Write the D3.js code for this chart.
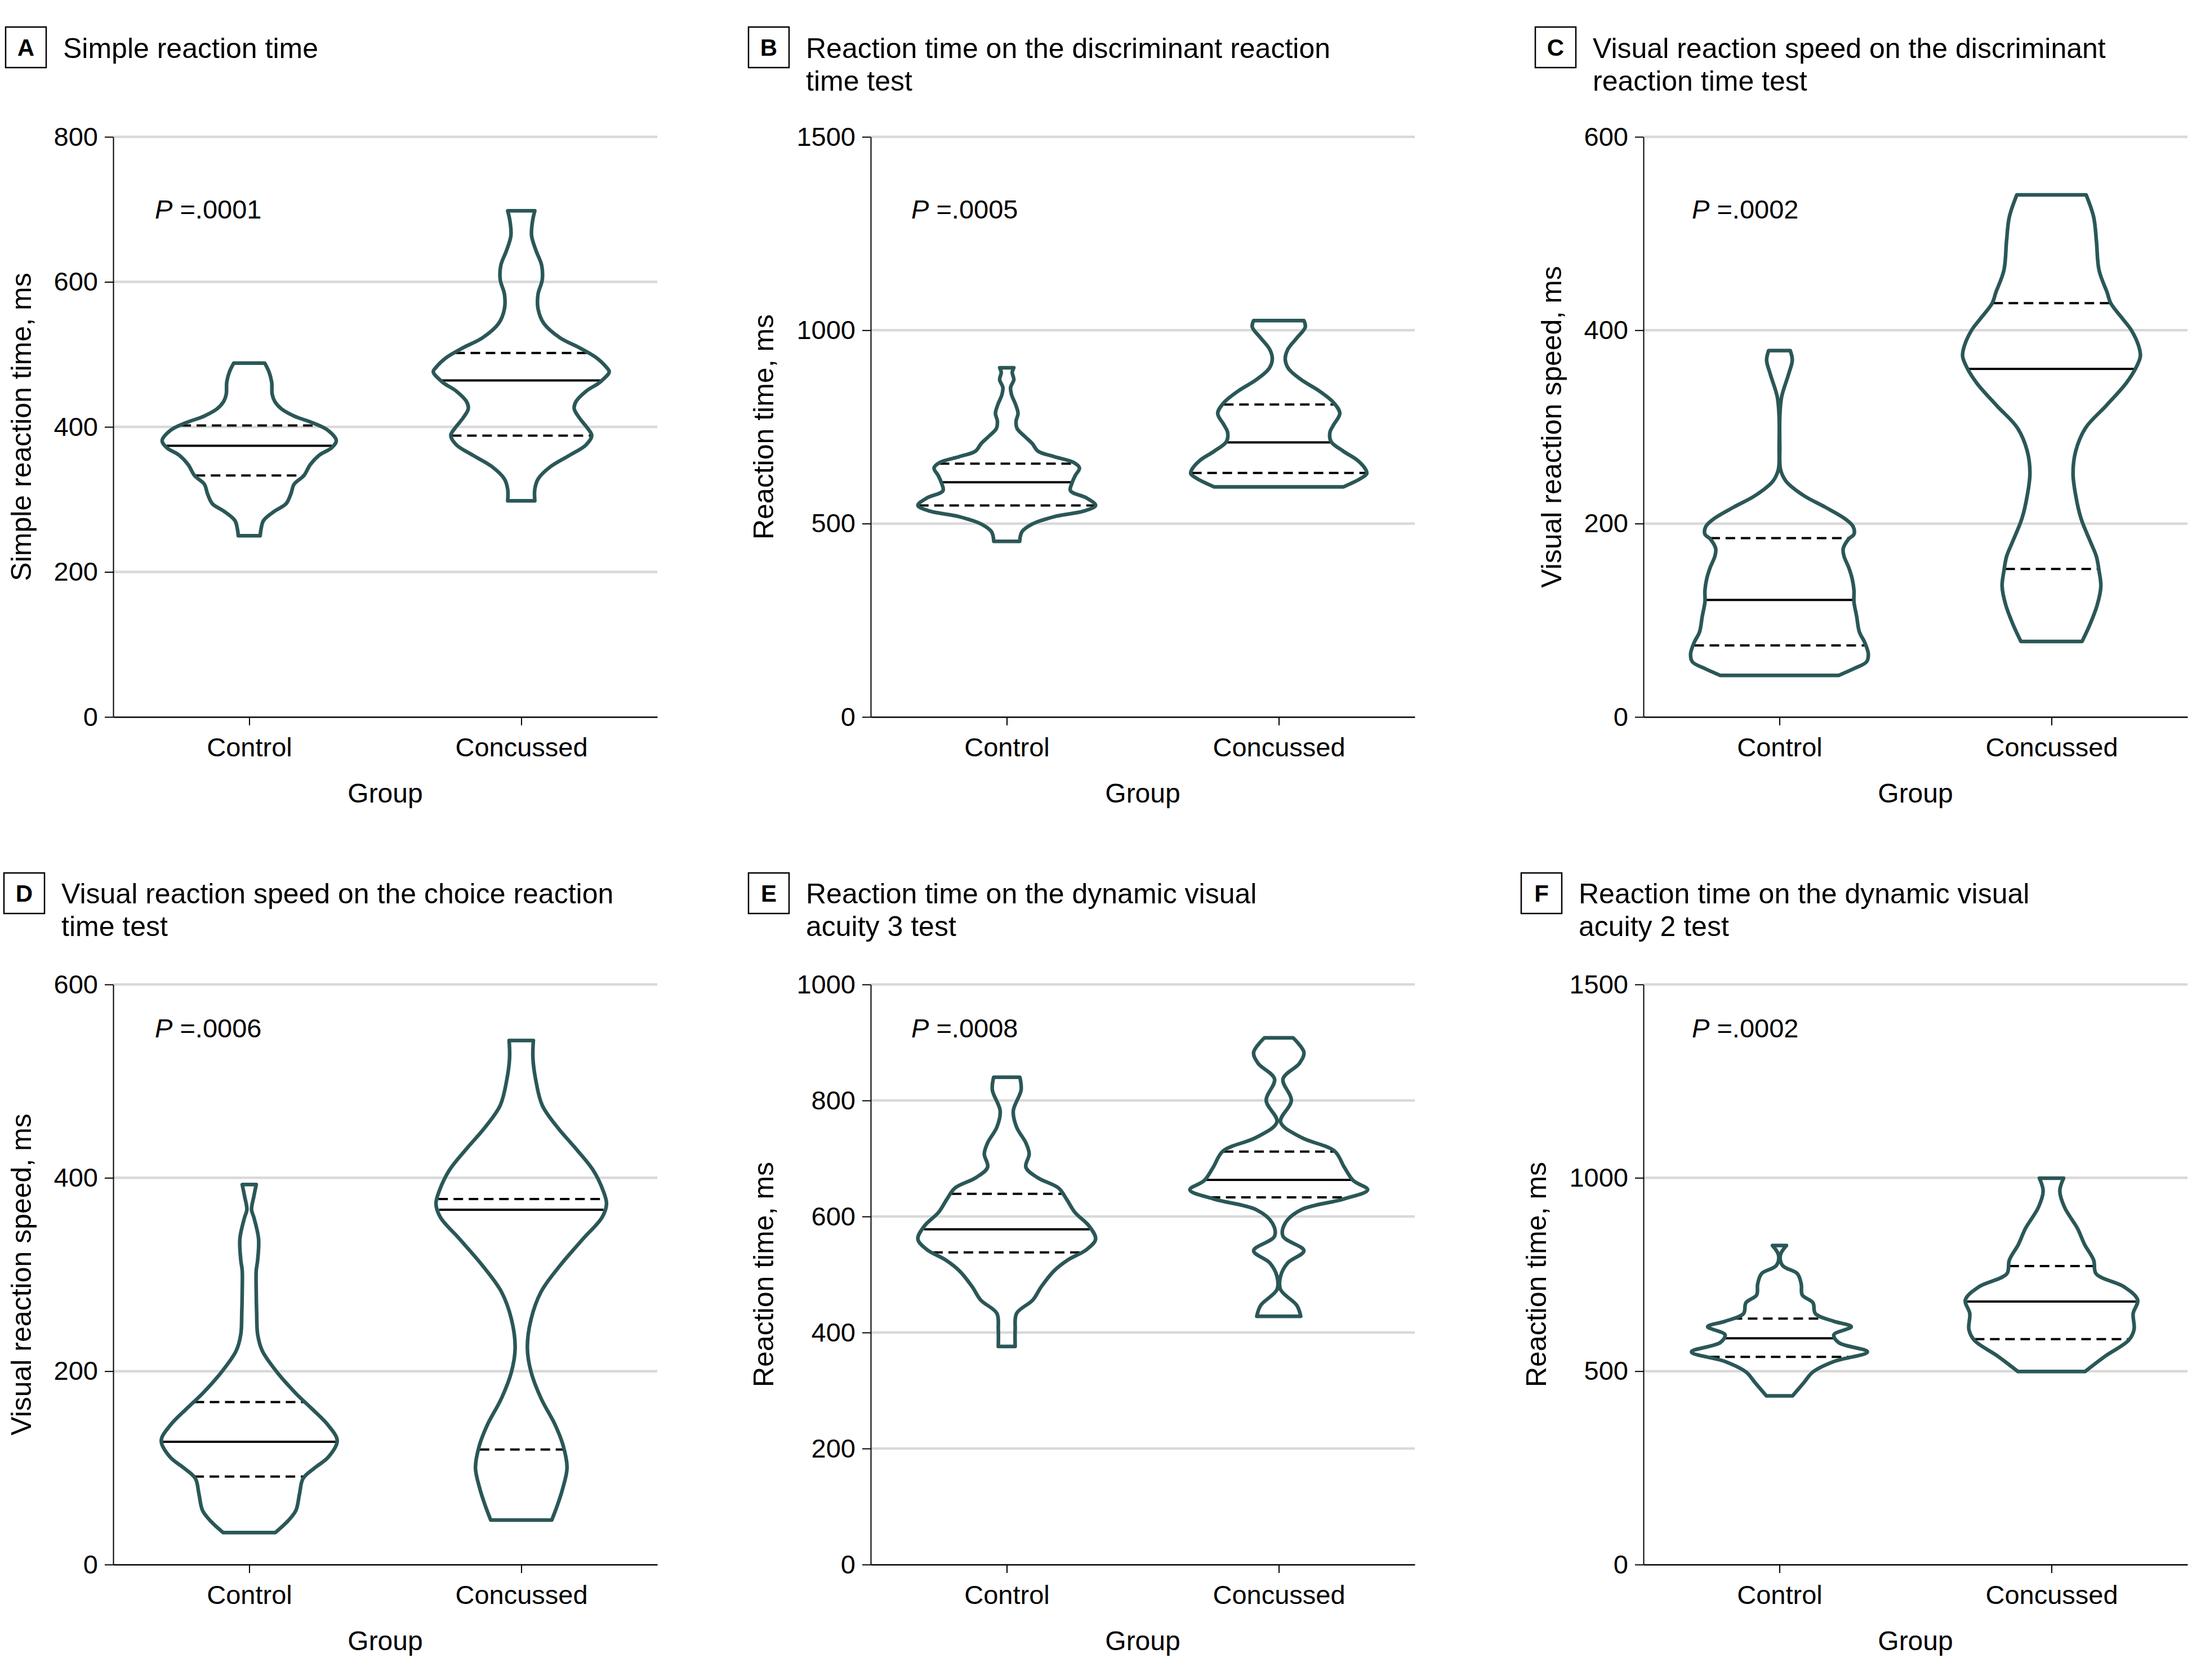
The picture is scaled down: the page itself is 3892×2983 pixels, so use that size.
<!DOCTYPE html>
<html><head><meta charset="utf-8">
<script src="https://cdn.jsdelivr.net/npm/d3@7"></script>
<style>body{margin:0;background:#fff}</style>
</head><body>
<svg id="chart" width="3892" height="2983"></svg>
<script>
// ---------- DATA ----------
const groups = ["Control", "Concussed"];

// Panel A: Simple reaction time
const aTicks = [0, 200, 400, 600, 800];
const aControlValues = [488, 476, 462, 445, 435, 425, 415, 405, 395, 381, 371, 361, 348, 333, 321, 308, 294, 284, 271, 260, 250];
const aControlWidths = [0.173, 0.22, 0.25, 0.256, 0.285, 0.357, 0.50, 0.72, 0.88, 0.97, 0.915, 0.78, 0.68, 0.61, 0.50, 0.465, 0.41, 0.285, 0.16, 0.133, 0.122];
const aControlQuartiles = [333, 374, 402];
const aConcussedValues = [698, 684, 664, 644, 623, 603, 583, 563, 543, 523, 509, 496, 482, 476, 462, 449, 435, 425, 412, 398, 388, 375, 361, 345, 328, 314, 298];
const aConcussedWidths = [0.151, 0.126, 0.115, 0.162, 0.227, 0.234, 0.187, 0.187, 0.25, 0.43, 0.65, 0.83, 0.95, 0.98, 0.88, 0.72, 0.61, 0.59, 0.65, 0.74, 0.785, 0.72, 0.54, 0.324, 0.187, 0.151, 0.151];
const aConcussedQuartiles = [388, 464, 502];

// Panel B: Reaction time, discriminant reaction time test
const bTicks = [0, 500, 1000, 1500];
const bControlValues = [903, 891, 872, 852, 833, 809, 785, 765, 746, 726, 707, 687, 673, 658, 644, 624, 605, 585, 566, 547, 532, 518, 498, 479, 454];
const bControlWidths = [0.079, 0.061, 0.079, 0.043, 0.054, 0.097, 0.126, 0.104, 0.115, 0.198, 0.284, 0.35, 0.53, 0.745, 0.81, 0.763, 0.727, 0.71, 0.89, 0.99, 0.853, 0.53, 0.277, 0.17, 0.144];
const bControlQuartiles = [547, 607, 655];
const bConcussedValues = [1025, 1008, 979, 950, 925, 901, 872, 843, 813, 785, 755, 736, 712, 687, 663, 639, 629, 615, 595];
const bConcussedWidths = [0.28, 0.295, 0.198, 0.10, 0.072, 0.108, 0.25, 0.45, 0.61, 0.68, 0.61, 0.57, 0.583, 0.72, 0.88, 0.97, 0.98, 0.90, 0.72];
const bConcussedQuartiles = [631, 710, 808];

// Panel C: Visual reaction speed, discriminant reaction time test
const cTicks = [0, 200, 400, 600];
const cControlValues = [379, 369, 354, 331, 310, 280, 256, 244, 229, 217, 205, 197, 189, 184, 174, 166, 155, 143, 131, 119, 104, 88, 77, 65, 57, 50, 43];
const cControlWidths = [0.12, 0.143, 0.10, 0.024, 0.004, 0.004, 0.012, 0.072, 0.27, 0.51, 0.73, 0.82, 0.83, 0.77, 0.71, 0.72, 0.77, 0.81, 0.83, 0.83, 0.86, 0.89, 0.95, 0.99, 0.97, 0.83, 0.66];
const cControlQuartiles = [74, 121, 185];
const cConcussedValues = [540, 517, 493, 462, 439, 428, 411, 400, 384, 373, 361, 345, 322, 299, 275, 252, 229, 205, 182, 166, 151, 135, 116, 96, 78];
const cConcussedWidths = [0.386, 0.47, 0.50, 0.53, 0.62, 0.66, 0.80, 0.89, 0.97, 0.99, 0.94, 0.83, 0.61, 0.38, 0.27, 0.24, 0.27, 0.33, 0.43, 0.50, 0.53, 0.55, 0.51, 0.43, 0.34];
const cConcussedQuartiles = [153, 360, 428];

// Panel D: Visual reaction speed, choice reaction time test
const dTicks = [0, 200, 400, 600];
const dControlValues = [393, 381, 367, 359, 337, 315, 304, 282, 260, 238, 221, 199, 177, 161, 144, 128, 111, 100, 89, 73, 56, 45, 33];
const dControlWidths = [0.078, 0.052, 0.026, 0.052, 0.104, 0.094, 0.078, 0.078, 0.083, 0.094, 0.146, 0.31, 0.52, 0.70, 0.88, 0.98, 0.88, 0.73, 0.60, 0.56, 0.52, 0.43, 0.29];
const dControlQuartiles = [91, 127, 168];
const dConcussedValues = [542, 524, 502, 475, 452, 430, 408, 386, 373, 359, 337, 309, 282, 254, 224, 199, 172, 144, 122, 100, 78, 62, 46];
const dConcussedWidths = [0.135, 0.13, 0.16, 0.234, 0.405, 0.61, 0.80, 0.915, 0.95, 0.90, 0.69, 0.43, 0.22, 0.11, 0.068, 0.11, 0.22, 0.38, 0.47, 0.51, 0.46, 0.405, 0.34];
const dConcussedQuartiles = [119, 367, 378];

// Panel E: Reaction time, dynamic visual acuity 3 test
const eTicks = [0, 200, 400, 600, 800, 1000];
const eControlValues = [840, 818, 782, 754, 727, 708, 685, 667, 649, 630, 607, 584, 561, 543, 525, 506, 479, 456, 433, 406, 376];
const eControlWidths = [0.146, 0.16, 0.073, 0.11, 0.213, 0.25, 0.213, 0.343, 0.577, 0.666, 0.76, 0.915, 0.99, 0.89, 0.68, 0.525, 0.385, 0.29, 0.11, 0.094, 0.094];
const eControlQuartiles = [538, 578, 639];
const eConcussedValues = [908, 883, 864, 837, 800, 763, 736, 713, 685, 662, 646, 630, 612, 589, 566, 541, 520, 497, 474, 447, 428];
const eConcussedWidths = [0.16, 0.28, 0.23, 0.047, 0.14, 0.02, 0.255, 0.62, 0.73, 0.83, 0.99, 0.72, 0.255, 0.073, 0.047, 0.28, 0.10, 0.02, 0.02, 0.20, 0.245];
const eConcussedQuartiles = [633, 663, 712];

// Panel F: Reaction time, dynamic visual acuity 2 test
const fTicks = [0, 500, 1000, 1500];
const fControlValues = [825, 800, 773, 752, 725, 697, 677, 649, 629, 615, 594, 574, 550, 525, 498, 470, 436];
const fControlWidths = [0.078, 0.01, 0.036, 0.20, 0.243, 0.254, 0.373, 0.40, 0.606, 0.80, 0.606, 0.66, 0.98, 0.606, 0.373, 0.27, 0.145];
const fControlQuartiles = [537, 585, 636];
const fConcussedValues = [999, 966, 924, 869, 828, 787, 752, 718, 684, 649, 608, 580, 539, 499];
const fConcussedWidths = [0.135, 0.093, 0.145, 0.29, 0.368, 0.47, 0.497, 0.81, 0.96, 0.91, 0.92, 0.86, 0.60, 0.373];
const fConcussedQuartiles = [583, 680, 772];

const panelLetters = ["A", "B", "C", "D", "E", "F"];
const panelTitles = [
  ["Simple reaction time"],
  ["Reaction time on the discriminant reaction", "time test"],
  ["Visual reaction speed on the discriminant", "reaction time test"],
  ["Visual reaction speed on the choice reaction", "time test"],
  ["Reaction time on the dynamic visual", "acuity 3 test"],
  ["Reaction time on the dynamic visual", "acuity 2 test"]
];
const yLabels = ["Simple reaction time, ms", "Reaction time, ms", "Visual reaction speed, ms",
                 "Visual reaction speed, ms", "Reaction time, ms", "Reaction time, ms"];
const pValues = [".0001", ".0005", ".0002", ".0006", ".0008", ".0002"];
const xLabel = "Group";

// table built from the arrays above
const panels = [
  {ticks: aTicks, values: [aControlValues, aConcussedValues], widths: [aControlWidths, aConcussedWidths], quart: [aControlQuartiles, aConcussedQuartiles]},
  {ticks: bTicks, values: [bControlValues, bConcussedValues], widths: [bControlWidths, bConcussedWidths], quart: [bControlQuartiles, bConcussedQuartiles]},
  {ticks: cTicks, values: [cControlValues, cConcussedValues], widths: [cControlWidths, cConcussedWidths], quart: [cControlQuartiles, cConcussedQuartiles]},
  {ticks: dTicks, values: [dControlValues, dConcussedValues], widths: [dControlWidths, dConcussedWidths], quart: [dControlQuartiles, dConcussedQuartiles]},
  {ticks: eTicks, values: [eControlValues, eConcussedValues], widths: [eControlWidths, eConcussedWidths], quart: [eControlQuartiles, eConcussedQuartiles]},
  {ticks: fTicks, values: [fControlValues, fConcussedValues], widths: [fControlWidths, fConcussedWidths], quart: [fControlQuartiles, fConcussedQuartiles]}
];

// ---------- LAYOUT / STYLE ----------
const FONT = "'Liberation Sans', Arial, sans-serif";
const colX = [201, 1546, 2918], plotW = 966;
const rowTop = [243, 1748], plotH = 1030;
const boxX = [[10, 1329, 2726], [7, 1329, 2701]];
const boxY = [48, 1550], boxSize = 72;
const titleBase = [103, 1604], titleLine = 58;
const pBase = [388, 1842];
const pOffset = [74, 72, 86];
const OUTLINE = "#2b5757";

const svg = d3.select("#chart");
svg.append("rect").attr("width", 3892).attr("height", 2983).attr("fill", "#fff");

function widthAt(vals, wid, v) {
  for (let j = 0; j < vals.length - 1; j++) {
    const a = vals[j], b = vals[j + 1];
    if ((v <= a && v >= b)) {
      const t = (a - v) / (a - b);
      return wid[j] + t * (wid[j + 1] - wid[j]);
    }
  }
  return v > vals[0] ? wid[0] : wid[wid.length - 1];
}

panels.forEach((p, i) => {
  const r = Math.floor(i / 3), c = i % 3;
  const x0 = colX[c], y0 = rowTop[r];
  const g = svg.append("g").attr("font-family", FONT);

  const y = d3.scaleLinear().domain([0, d3.max(p.ticks)]).range([y0 + plotH, y0]);
  const x = d3.scalePoint().domain(groups).range([x0, x0 + plotW]).padding(0.5);
  const w = d3.scaleLinear().domain([0, 1]).range([0, x.step() * 0.33]);

  // gridlines
  g.append("g").selectAll("line").data(p.ticks.filter(t => t > 0)).join("line")
    .attr("x1", x0).attr("x2", x0 + plotW)
    .attr("y1", d => y(d)).attr("y2", d => y(d))
    .attr("stroke", "#d9d9d9").attr("stroke-width", 4.5);

  // y axis
  const ya = g.append("g").attr("transform", `translate(${x0},0)`)
    .call(d3.axisLeft(y).tickValues(p.ticks).tickSize(15).tickPadding(12).tickSizeOuter(0).tickFormat(d3.format("d")));
  ya.attr("font-size", 47).attr("font-family", FONT);
  ya.select(".domain").attr("stroke", "#000").attr("stroke-width", 2);
  ya.selectAll(".tick line").attr("stroke", "#000").attr("stroke-width", 2);
  ya.selectAll(".tick text").attr("fill", "#000");

  // x axis
  const xa = g.append("g").attr("transform", `translate(0,${y0 + plotH})`)
    .call(d3.axisBottom(x).tickSize(15).tickPadding(22).tickSizeOuter(0));
  xa.attr("font-size", 47).attr("font-family", FONT);
  xa.select(".domain").attr("stroke", "#000").attr("stroke-width", 2.5);
  xa.selectAll(".tick line").attr("stroke", "#000").attr("stroke-width", 2);
  xa.selectAll(".tick text").attr("fill", "#000");

  // violins
  groups.forEach((grp, k) => {
    const vals = p.values[k], wid = p.widths[k], q = p.quart[k];
    const cx = x(grp);
    const pts = vals.map((v, j) => ({v: v, w: wid[j]}));
    const area = d3.area()
      .curve(d3.curveCatmullRom.alpha(0.5))
      .y(d => y(d.v))
      .x0(d => cx - w(d.w))
      .x1(d => cx + w(d.w));
    q.forEach((qv, m) => {
      const hw = Math.max(0, w(widthAt(vals, wid, qv)) - 2);
      g.append("line")
        .attr("x1", cx - hw).attr("x2", cx + hw)
        .attr("y1", y(qv)).attr("y2", y(qv))
        .attr("stroke", "#000").attr("stroke-width", 4)
        .attr("stroke-dasharray", m === 1 ? null : "17,10");
    });
    g.append("path").datum(pts).attr("d", area)
      .attr("fill", "none").attr("stroke", OUTLINE).attr("stroke-width", 6.5)
      .attr("stroke-linejoin", "round");
  });

  // panel letter box
  const bx = boxX[r][c];
  g.append("rect").attr("x", bx).attr("y", boxY[r]).attr("width", boxSize).attr("height", boxSize)
    .attr("fill", "none").attr("stroke", "#000").attr("stroke-width", 2.5);
  g.append("text").attr("x", bx + boxSize / 2).attr("y", boxY[r] + boxSize / 2).attr("dy", "0.36em")
    .attr("text-anchor", "middle").attr("font-weight", "bold").attr("font-size", 42).text(panelLetters[i]);
  panelTitles[i].forEach((line, li) => {
    g.append("text").attr("x", bx + 102).attr("y", titleBase[r] + li * titleLine)
      .attr("font-size", 50).attr("fill", "#000").text(line);
  });

  // P value
  const pt = g.append("text").attr("x", x0 + pOffset[c]).attr("y", pBase[r]).attr("font-size", 47);
  pt.append("tspan").attr("font-style", "italic").text("P");
  pt.append("tspan").text(" =" + pValues[i]);

  // y label
  const bb = ya.node().getBBox();
  const left = x0 + bb.x;
  const lx = left - 41, ly = y0 + plotH / 2;
  g.append("text").attr("transform", `translate(${lx},${ly}) rotate(-90)`)
    .attr("text-anchor", "middle").attr("font-size", 50).text(yLabels[i]);

  // x label
  g.append("text").attr("x", x0 + plotW / 2).attr("y", y0 + plotH + 152)
    .attr("text-anchor", "middle").attr("font-size", 48).text(xLabel);
});
</script>
</body></html>
